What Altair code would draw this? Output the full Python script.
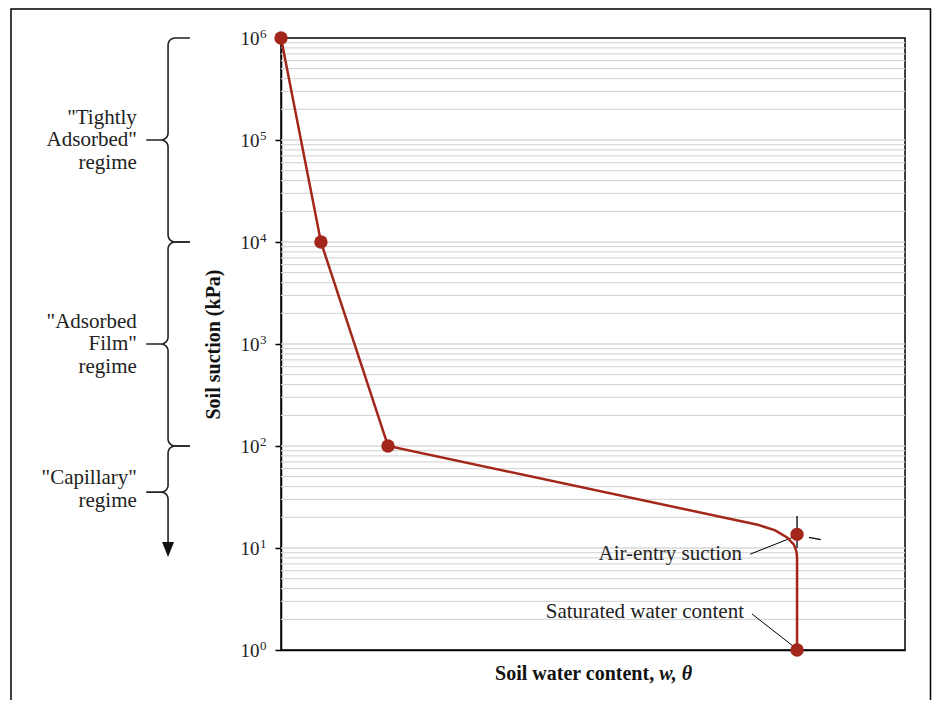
import math
import altair as alt
import pandas as pd

# ---------------- data ----------------
# soil-water characteristic curve (x: relative water content, y: suction kPa)
line_w = [0, 6.4, 17.15, 76.4, 79.2, 81.1, 82.2, 82.6, 82.7, 82.7]
line_s = [1e6, 1e4, 100, 16.9, 14.9, 12.7, 10.8, 9.3, 8.1, 1]
pt_w = [0, 6.4, 17.15, 82.7, 82.7]
pt_s = [1e6, 1e4, 100, 13.6, 1]

major_ticks = [1, 10, 100, 1000, 10000, 100000, 1000000]
tick_exponents = ["0", "1", "2", "3", "4", "5", "6"]
grid_vals = [m * 10 ** k for k in range(6) for m in range(1, 10)][1:]

regime_labels = ['"Tightly\nAdsorbed"\nregime', '"Adsorbed\nFilm"\nregime', '"Capillary"\nregime']
regime_top = [1e6, 1e4, 100]
regime_mid = [1e5, 1e3, 35.3]
regime_bot = [1e4, 100, 10.6]
regime_text_y = [1.644e5, 1.644e3, 48.5]   # first line of each label block

ann_text = ["Air-entry suction", "Saturated water content"]
ann_text_x = [73.9, 74.2]
ann_text_y = [7.63, 2.06]
leader_x = [75.2, 75.5]
leader_y = [8.7, 2.25]
leader_x2 = [82.1, 82.05]
leader_y2 = [12.8, 1.094]

# construction marks at the air-entry point
cross_x = [82.7, 84.6]
cross_y = [20.6, 12.7]
cross_x2 = [82.7, 86.5]
cross_y2 = [10.0, 12.1]

RED = "#a3261b"
SERIF = "Liberation Serif"
W, H = 624, 612
PX_X = W / 100.0
PX_DEC = H / 6.0

# ---------------- scales / axes ----------------
xs = alt.Scale(domain=[0, 100], nice=False, zero=False)
ys = alt.Scale(type="log", domain=[1, 1e6], nice=False)

x_axis = alt.Axis(title=None, labels=False, ticks=False, grid=False, domain=True,
                  domainColor="black", domainWidth=1.5)
y_axis = alt.Axis(title="Soil suction (kPa)", values=major_ticks, grid=False,
                  tickSize=6, tickColor="black", tickWidth=1.5,
                  domainColor="black", domainWidth=1.5,
                  labelExpr="'10'",
                  labelFont=SERIF, labelFontSize=19, labelColor="#222", labelPadding=16,
                  labelFlush=False, labelOverlap=False,
                  titleFont=SERIF, titleFontSize=20, titleFontWeight="bold", titleColor="#111",
                  titleX=-68, titleY=H / 2, titleAngle=270, titleAlign="center",
                  titleBaseline="middle")


def X(f="x"):
    return alt.X(f"{f}:Q", scale=xs, axis=x_axis)


def Y(f="y"):
    return alt.Y(f"{f}:Q", scale=ys, axis=y_axis)


# ---------------- braces ----------------
spine, tip, cusp = -18.1, -14.6, -21.6
rx, rd = 7 / PX_X, 7 / PX_DEC
N = 6


def brace(bid, top, mid, bot, bottom_tip=True):
    Lt, Lm, Lb = math.log10(top), math.log10(mid), math.log10(bot)
    pts = [(tip, Lt), (spine + rx, Lt)]
    for k in range(N + 1):
        p = k / N * math.pi / 2
        pts.append((spine + rx - rx * math.sin(p), Lt - rd + rd * math.cos(p)))
    for k in range(N + 1):
        p = k / N * math.pi / 2
        pts.append((spine - rx + rx * math.cos(p), Lm + rd - rd * math.sin(p)))
    pts.append((cusp, Lm))
    pts.append((spine - rx, Lm))
    for k in range(N + 1):
        p = k / N * math.pi / 2
        pts.append((spine - rx + rx * math.sin(p), Lm - rd + rd * math.cos(p)))
    if bottom_tip:
        for k in range(N + 1):
            p = k / N * math.pi / 2
            pts.append((spine + rx - rx * math.cos(p), Lb + rd - rd * math.sin(p)))
        pts.append((tip, Lb))
    else:
        pts.append((spine, Lb))
    return [{"id": bid, "i": i, "x": px, "y": 10 ** py} for i, (px, py) in enumerate(pts)]


brace_rows = []
for j in range(3):
    brace_rows += brace(j, regime_top[j], regime_mid[j], regime_bot[j], bottom_tip=(j < 2))
brace_df = pd.DataFrame(brace_rows)

# ---------------- layers ----------------
frame = alt.Chart(pd.DataFrame({"a": [0]})).mark_rect(
    fill="white", fillOpacity=0, stroke="black", strokeWidth=1.5
).encode(x=alt.value(-270), x2=alt.value(649.5), y=alt.value(-29), y2=alt.value(700))

grid = alt.Chart(pd.DataFrame({"y": grid_vals})).mark_rule(
    color="#d9d9d9", strokeWidth=1.3
).encode(y=Y())

exps = alt.Chart(pd.DataFrame({"x": [-3.37] * 7, "y": major_ticks, "label": tick_exponents})).mark_text(
    font=SERIF, fontSize=13, align="left", baseline="middle", dy=-4, color="#222"
).encode(x=X(), y=Y(), text="label:N")

braces = alt.Chart(brace_df).mark_line(color="#222", strokeWidth=1.6).encode(
    x=X(), y=Y(), detail="id:N", order="i:Q"
)

arrow = alt.Chart(pd.DataFrame({"x": [spine], "y": [9.67]})).mark_point(
    shape="M-1,-1.25L1,-1.25L0,1.25Z", size=144, filled=True, color="#111", opacity=1
).encode(x=X(), y=Y())

regime_df = pd.DataFrame({"x": [-23.1] * 3, "y": regime_text_y, "label": regime_labels})
regimes = alt.Chart(regime_df).mark_text(
    font=SERIF, fontSize=21, align="right", baseline="middle", lineHeight=22.5,
    lineBreak="\n", color="#222"
).encode(x=X(), y=Y(), text="label:N")

leaders = alt.Chart(pd.DataFrame({"x": leader_x, "y": leader_y, "x2": leader_x2, "y2": leader_y2})).mark_rule(
    color="black", strokeWidth=1
).encode(x=X(), y=Y(), x2="x2:Q", y2="y2:Q")

cross = alt.Chart(pd.DataFrame({"x": cross_x, "y": cross_y, "x2": cross_x2, "y2": cross_y2})).mark_rule(
    color="black", strokeWidth=1.3
).encode(x=X(), y=Y(), x2="x2:Q", y2="y2:Q")

curve = alt.Chart(pd.DataFrame({"x": line_w, "y": line_s, "i": list(range(len(line_w)))})).mark_line(
    color=RED, strokeWidth=2.5
).encode(x=X(), y=Y(), order="i:Q")

points = alt.Chart(pd.DataFrame({"x": pt_w, "y": pt_s})).mark_circle(
    size=180, color=RED, opacity=1
).encode(x=X(), y=Y())

ann = alt.Chart(pd.DataFrame({"x": ann_text_x, "y": ann_text_y, "label": ann_text})).mark_text(
    font=SERIF, fontSize=21, align="right", baseline="alphabetic", color="#222"
).encode(x=X(), y=Y(), text="label:N")

xt1 = alt.Chart(pd.DataFrame({"x": [59.8], "y": [0.508], "label": ["Soil water content,"]})).mark_text(
    font=SERIF, fontSize=20, fontWeight="bold", align="right", baseline="alphabetic", color="#111"
).encode(x=X(), y=Y(), text="label:N")
xt2 = alt.Chart(pd.DataFrame({"x": [60.6], "y": [0.508], "label": ["w, \u03b8"]})).mark_text(
    font=SERIF, fontSize=20, fontWeight="bold", fontStyle="italic", align="left",
    baseline="alphabetic", color="#111"
).encode(x=X(), y=Y(), text="label:N")

chart = alt.layer(
    frame, grid, exps, braces, arrow, regimes, leaders, cross, curve, points, ann, xt1, xt2
).properties(
    width=W, height=H,
    autosize=alt.AutoSizeParams(type="none"),
    padding={"left": 273, "top": 30, "right": 27, "bottom": 50},
    background="white",
).configure_view(stroke="black", strokeWidth=1.5)

chart.save("out.html", embed_options={"renderer": "svg", "actions": False})
